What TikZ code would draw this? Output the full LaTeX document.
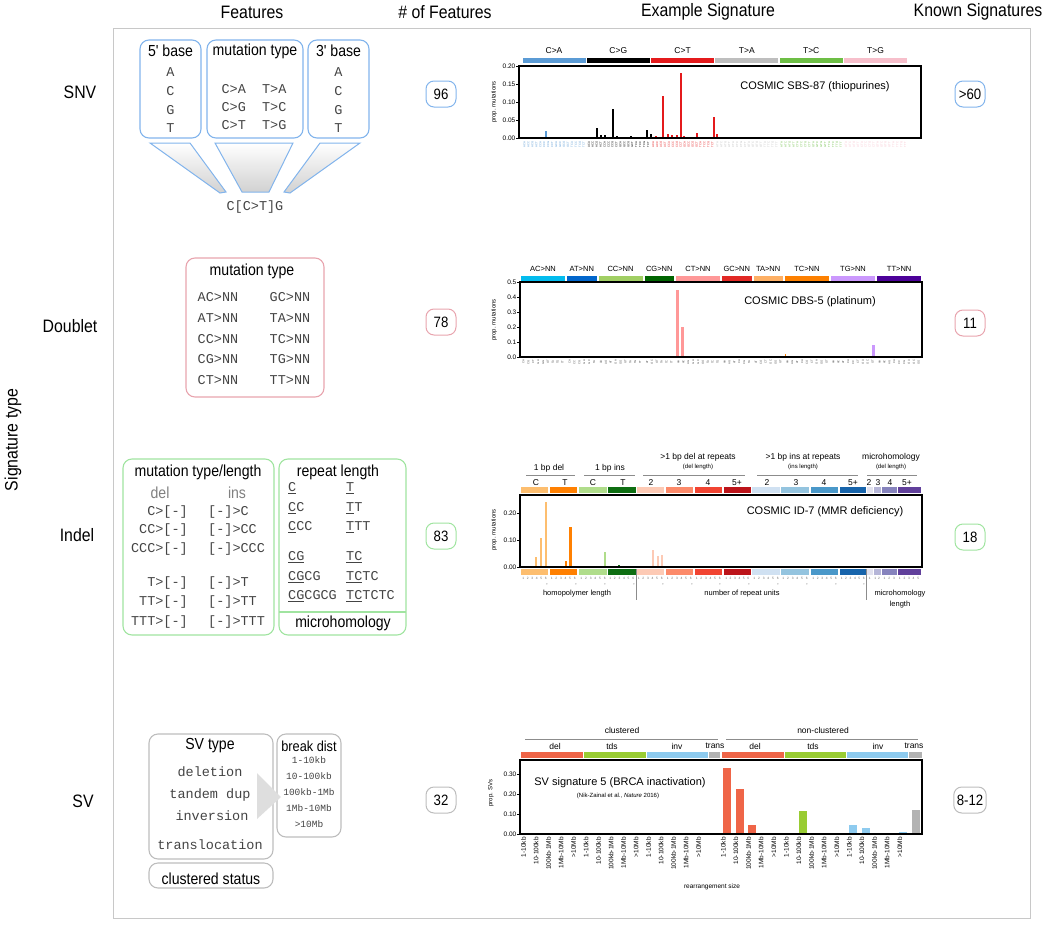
\documentclass[tikz,border=0pt]{standalone}
\usepackage{fontspec}
\setmainfont{Liberation Sans}
\setmonofont{Liberation Mono}
\newfontfamily\nar[FakeStretch=0.88]{Liberation Sans}
\usetikzlibrary{shapes.geometric}
\definecolor{snvc}{HTML}{82B4EC}
\definecolor{dblc}{HTML}{E8A4AE}
\definecolor{indc}{HTML}{A0E4A0}
\definecolor{svc}{HTML}{BDBDBD}
\definecolor{frm}{HTML}{C8C8C8}
\definecolor{monoc}{HTML}{444444}
\definecolor{sA}{HTML}{5B9BD5}
\definecolor{sB}{HTML}{000000}
\definecolor{sC}{HTML}{E41A1C}
\definecolor{sD}{HTML}{BEBEBE}
\definecolor{sE}{HTML}{6DBE45}
\definecolor{sF}{HTML}{F7BFCB}
\definecolor{dA}{HTML}{03BCEE}
\definecolor{dB}{HTML}{0266CC}
\definecolor{dC}{HTML}{A1CF64}
\definecolor{dD}{HTML}{006501}
\definecolor{dE}{HTML}{FF9898}
\definecolor{dF}{HTML}{E22925}
\definecolor{dG}{HTML}{FEB065}
\definecolor{dH}{HTML}{FD8000}
\definecolor{dI}{HTML}{CB98FD}
\definecolor{dJ}{HTML}{4C0199}
\definecolor{iA}{HTML}{FDBE6F}
\definecolor{iB}{HTML}{FF8001}
\definecolor{iC}{HTML}{B0DD8B}
\definecolor{iD}{HTML}{0E6E12}
\definecolor{iE}{HTML}{FDCAB5}
\definecolor{iF}{HTML}{FC8A6A}
\definecolor{iG}{HTML}{F14432}
\definecolor{iH}{HTML}{BC141A}
\definecolor{iI}{HTML}{D0E1F2}
\definecolor{iJ}{HTML}{94C4DF}
\definecolor{iK}{HTML}{4A98C9}
\definecolor{iL}{HTML}{1764AB}
\definecolor{iM}{HTML}{E2E2EF}
\definecolor{iN}{HTML}{B6B6D8}
\definecolor{iO}{HTML}{8683BD}
\definecolor{iP}{HTML}{61409B}
\definecolor{vA}{HTML}{EF6548}
\definecolor{vB}{HTML}{99CC33}
\definecolor{vC}{HTML}{8ECBEF}
\definecolor{vD}{HTML}{B3B3B3}
\begin{document}
\begin{tikzpicture}[x=1pt,y=-1pt,
  hdr/.style={font=\nar\fontsize{18}{20}\selectfont},
  fbox/.style={draw=#1, line width=1.1pt, rounded corners=9pt, inner sep=0pt},
  cnt/.style={draw=#1, line width=1pt, rounded corners=8pt, minimum width=30pt, minimum height=26pt, inner xsep=3pt, inner ysep=1pt, font=\nar\fontsize{15}{16}\selectfont},
  ttl/.style={font=\nar\fontsize{16}{18}\selectfont, inner sep=0pt},
  mono/.style={font=\ttfamily\fontsize{13.5}{16}\selectfont, text=monoc, inner sep=0pt},
  lab/.style={font=\fontsize{8.5}{9}\selectfont, inner sep=0pt},
  sm/.style={font=\fontsize{6}{7}\selectfont, inner sep=0pt},
  ax/.style={font=\fontsize{6.5}{7}\selectfont, inner sep=0pt, anchor=east},
  tl/.style={font=\fontsize{2.8}{3}\selectfont, inner sep=0pt},
  ctitle/.style={font=\fontsize{11}{12}\selectfont, inner sep=0pt},
  gline/.style={draw=black!45, line width=0.9pt},
  plotfr/.style={draw=black, line width=1.3pt},
  tick/.style={line width=0.8pt},
]
\useasboundingbox (0,0) rectangle (1050,926);
\draw[frm, line width=1pt] (113,28) rectangle (1030,918);

% headers
\node[hdr] (h1) at (252,12) {Features};
\node[hdr] (h2) at (445,12) {\# of Features};
\node[hdr] (h3) at (708,12) {Example Signature};
\node[hdr] (h4) at (978,12) {Known Signatures};
\node[hdr, rotate=90] (st) at (13,440) {Signature type};

% row labels
\node[hdr] (r1) at (80,92) {SNV};
\node[hdr] (r2) at (70,326) {Doublet};
\node[hdr] (r3) at (77,535) {Indel};
\node[hdr] (r4) at (83,801) {SV};

% counts
\node[cnt=snvc] (n1) at (441,94) {96};
\node[cnt=dblc] (n2) at (441,322) {78};
\node[cnt=indc] (n3) at (441,536) {83};
\node[cnt=svc] (n4) at (441,800) {32};
\node[cnt=snvc] (k1) at (970,94) {>60};
\node[cnt=dblc] (k2) at (970,323) {11};
\node[cnt=indc] (k3) at (970,537) {18};
\node[cnt=svc] (k4) at (970,800) {8-12};

% ================= SNV features
\shadedraw[top color=white, bottom color=black!18, draw=snvc, line width=1pt] (150,143) -- (190,143) -- (226,192) -- (220,193) -- cycle;
\shadedraw[top color=white, bottom color=black!18, draw=snvc, line width=1pt] (215,143) -- (293,143) -- (269,192) -- (242,192) -- cycle;
\shadedraw[top color=white, bottom color=black!18, draw=snvc, line width=1pt] (320,143) -- (360,143) -- (290,193) -- (284,192) -- cycle;
\node[fbox=snvc, minimum width=61pt, minimum height=98pt] (b5) at (170.5,89) {};
\node[fbox=snvc, minimum width=96pt, minimum height=98pt] (bm) at (255,89) {};
\node[fbox=snvc, minimum width=61pt, minimum height=98pt] (b3) at (338.5,89) {};
\node[ttl] at (170.5,51) {5' base};
\node[ttl] at (255,51) {mutation type};
\node[ttl] at (338.5,51) {3' base};
\foreach \b/\yy in {A/72,C/91,G/110,T/128}{
  \node[mono] at (170.5,\yy) {\b};
  \node[mono] at (338.5,\yy) {\b};
}
\node[mono] at (254,89) {C>A\ \ T>A};
\node[mono] at (254,107) {C>G\ \ T>C};
\node[mono] at (254,125) {C>T\ \ T>G};
\node[mono] (ctx) at (255,207) {C[C>T]G};

% ================= SNV chart
\foreach \k/\c/\tx in {0/sA/C>A,1/sB/C>G,2/sC/C>T,3/sD/T>A,4/sE/T>C,5/sF/T>G}{
  \fill[\c] ({522.5+64.3*\k},58) rectangle ({522.5+64.3*\k+63},62.5);
  \node[lab] at ({522.5+64.3*\k+31.5},51) {\tx};
  \foreach \fa [count=\ia from 0] in {A,C,G,T}{
    \foreach \ta [count=\ib from 0] in {A,C,G,T}{
      \node[tl, text=\c, rotate=90] at ({524.5+64.3*\k+3.95*(\ia*4+\ib)},144.5) {\fa\ifnum\k<3 C\else T\fi\ta};
    }
  }
}
\foreach \x/\v/\c in {530/0.004/sA,542/0.004/sA,546/0.02/sA,558/0.003/sA,566/0.003/sA,
  589/0.004/sB,597/0.028/sB,601/0.007/sB,605/0.007/sB,613/0.08/sB,617/0.006/sB,631/0.006/sB,647/0.022/sB,651/0.01/sB,
  656/0.005/sC,663/0.117/sC,668/0.012/sC,672/0.008/sC,677/0.008/sC,681/0.18/sC,684/0.006/sC,697/0.014/sC,714/0.058/sC,717/0.01/sC,
  733/0.003/sD,749/0.004/sD,765/0.003/sD,777/0.003/sD,
  791/0.004/sE,803/0.003/sE,813/0.004/sE,834/0.003/sE,843/0.004/sE,849/0.003/sE,870/0.002/sF}{
  \fill[\c] ({\x-0.8},138) rectangle ({\x+0.8},{138-\v*360});
}
\draw[plotfr] (519,66) rectangle (921,138);
\foreach \v/\l in {0/0.00,0.05/0.05,0.1/0.10,0.15/0.15,0.2/0.20}{
  \draw[tick] (516,{138-\v*360}) -- (519,{138-\v*360});
  \node[ax] at (515.5,{138-\v*360}) {\l};
}
\node[sm, rotate=90] at (494,102) {prop. mutations};
\node[ctitle] at (815,87) {COSMIC SBS-87 (thiopurines)};

% ================= Doublet features
\node[fbox=dblc, minimum width=138pt, minimum height=139pt] (bd) at (255,327.5) {};
\node[ttl] at (252,271) {mutation type};
\foreach \l/\r/\yy in {AC/GC/297,AT/TA/318,CC/TC/339,CG/TG/359,CT/TT/380}{
  \node[mono] at (218,\yy) {\l>NN};
  \node[mono] at (290,\yy) {\r>NN};
}

% ================= Doublet chart
\foreach \a/\b/\c/\tx in {521/565.1/dA/AC>NN,567.1/596.5/dB/AT>NN,598.5/642.6/dC/CC>NN,644.6/674/dD/CG>NN,676/720.1/dE/CT>NN,722.1/751.5/dF/GC>NN,753.5/782.9/dG/TA>NN,784.9/829/dH/TC>NN,831/875.1/dI/TG>NN,877.1/921.2/dJ/TT>NN}{
  \fill[\c] (\a,275.5) rectangle (\b,281.5);
  \node[lab, font=\fontsize{7.5}{8}\selectfont] at ({(\a+\b)/2},268.5) {\tx};
}
\foreach \sx/\lab in {521/{CA,CG,CT,GA,GG,GT,TA,TG,TT},567.1/{CA,CC,CG,GA,GC,TA},598.5/{AA,AG,AT,GA,GG,GT,TA,TG,TT},644.6/{AT,GC,GT,TA,TC,TT},676/{AA,AC,AG,GA,GC,GG,TA,TC,TG},722.1/{AA,AG,AT,CA,CG,TA},753.5/{AT,CG,CT,GC,GG,GT},784.9/{AA,AG,AT,CA,CG,CT,GA,GG,GT},831/{AA,AC,AT,CA,CC,CT,GA,GC,GT},877.1/{AA,AC,AG,CA,CC,CG,GA,GC,GG}}{
  \foreach \l [count=\i] in \lab {
    \node[tl, text=black!70, rotate=90] at ({\sx+4.9*(\i-0.5)},362) {\l};
  }
}
\foreach \xa/\xb/\v/\c in {675.5/678.5/0.45/dE,680.5/683.5/0.20/dE,686/688/0.01/dE,604.5/606/0.006/dC,784.5/786/0.02/dH,830.5/832/0.005/dI,841.5/843/0.006/dI,872/874.5/0.08/dI}{
  \fill[\c] (\xa,357) rectangle (\xb,{357-\v*150});
}
\draw[plotfr] (520,282) rectangle (922,357);
\foreach \v/\l in {0/0.0,0.1/0.1,0.2/0.2,0.3/0.3,0.4/0.4,0.5/0.5}{
  \draw[tick] (517,{357-\v*150}) -- (520,{357-\v*150});
  \node[ax] at (516.5,{357-\v*150}) {\l};
}
\node[sm, rotate=90] at (494,320) {prop. mutations};
\node[ctitle] at (810,302) {COSMIC DBS-5 (platinum)};

% ================= Indel features
\node[fbox=indc, minimum width=151pt, minimum height=176pt] (bil) at (198.5,547) {};
\node[fbox=indc, minimum width=127pt, minimum height=176pt] (bir) at (342.5,547) {};
\draw[indc, line width=1.1pt] (279,612) -- (406,612);
\node[ttl] at (198,472) {mutation type/length};
\node[ttl, text=black!50] at (160,493) {del};
\node[ttl, text=black!50] at (237,493) {ins};
\foreach \l/\r/\yy in {C/C/512,CC/CC/530,CCC/CCC/549,T/T/583,TT/TT/602,TTT/TTT/622}{
  \node[mono, anchor=east] at (188,\yy) {\l>[-]};
  \node[mono, anchor=west] at (208,\yy) {[-]>\r};
}
\node[ttl] at (338,472) {repeat length};
\node[ttl] at (343,623) {microhomology};
\foreach \l/\r/\yy in {{\underline{C}}/{\underline{T}}/488,{\underline{C}C}/{\underline{T}T}/508,{\underline{C}CC}/{\underline{T}TT}/527,{\underline{CG}}/{\underline{TC}}/557,{\underline{CG}CG}/{\underline{TC}TC}/577,{\underline{CG}CGCG}/{\underline{TC}TCTC}/596}{
  \node[mono, anchor=west] at (288,\yy) {\l};
  \node[mono, anchor=west] at (346,\yy) {\r};
}

% ================= Indel chart
\node[lab] at (549,468) {1 bp del};
\node[lab] at (610,468) {1 bp ins};
\node[lab] at (698,457) {>1 bp del at repeats};
\node[sm] at (698,467) {(del length)};
\node[lab] at (803,457) {>1 bp ins at repeats};
\node[sm] at (803,467) {(ins length)};
\node[lab] at (891,457) {microhomology};
\node[sm] at (891,467) {(del length)};
\foreach \a/\b in {526/575,584/635,643/745,757/858,867/917}{
  \draw[gline] (\a,475) -- (\b,475);
}
\foreach \x/\tx in {536/C,565/T,593/C,623/T,651/2,679/3,708/4,737/5+,767/2,796/3,824/4,853/5+,869/2,878/3,890/4,907/5+}{
  \node[lab] at (\x,482.5) {\tx};
}
\foreach \a/\b/\n/\c in {521/548/6/iA,549.5/577/6/iB,579/607/6/iC,608/635.5/6/iD,636.5/664/6/iE,665.5/693/6/iF,694.5/722/6/iG,724/750.5/6/iH,752/780/6/iI,781/809/6/iJ,811/838/6/iK,839.5/866/6/iL,867/872.5/1/iM,873.5/881/2/iN,882/896.5/3/iO,897.5/920.5/5/iP}{
  \fill[\c] (\a,487) rectangle (\b,493);
  \fill[\c] (\a,568.5) rectangle (\b,575);
  \foreach \i in {1,...,\n}{
    \node[tl, font=\fontsize{3.2}{3.5}\selectfont, text=black!60] at ({\a+(\i-0.5)*(\b-\a)/\n},578.5) {\i};
  }
}
\foreach \x in {547,576,605,634,663,692,720,749,778,807,836,864}{
  \node[tl, font=\fontsize{3.2}{3.5}\selectfont, text=black!60] at (\x,585) {+};
}
\foreach \x/\w/\v/\c in {536/1.6/0.037/iA,541/1.6/0.107/iA,546/1.6/0.24/iA,566/2.2/0.023/iB,570.5/2.6/0.147/iB,599/1.4/0.004/iC,605/1.6/0.055/iC,619/1.6/0.006/iD,653/1.6/0.062/iE,658/1.6/0.042/iE,662/1.8/0.046/iE}{
  \fill[\c] ({\x-\w/2},567) rectangle ({\x+\w/2},{567-\v*270});
}
\draw[plotfr] (520,495) rectangle (922,567);
\foreach \v/\l in {0/0.00,0.1/0.10,0.2/0.20}{
  \draw[tick] (517,{567-\v*270}) -- (520,{567-\v*270});
  \node[ax] at (516.5,{567-\v*270}) {\l};
}
\node[sm, rotate=90] at (494,530) {prop. mutations};
\node[ctitle] at (825,512) {COSMIC ID-7 (MMR deficiency)};
\draw[gline] (636,569) -- (636,600);
\draw[gline] (866,569) -- (866,600);
\node[lab, font=\fontsize{7.5}{8}\selectfont] at (577,594) {homopolymer length};
\node[lab, font=\fontsize{7.5}{8}\selectfont] at (742,594) {number of repeat units};
\node[lab, font=\fontsize{7.5}{8}\selectfont] at (900,594) {microhomology};
\node[lab, font=\fontsize{7.5}{8}\selectfont] at (900,604.5) {length};

% ================= SV features
\node[fbox=svc, minimum width=124pt, minimum height=125pt] (bsv) at (211,796.5) {};
\node[fbox=svc, minimum width=124pt, minimum height=25pt] (bcl) at (211,875.5) {};
\node[fbox=svc, minimum width=64pt, minimum height=103pt] (bbd) at (309,785.5) {};
\fill[black!13] (257,773) -- (281,797) -- (257,819) -- cycle;
\node[ttl] at (210,746) {SV type};
\node[mono] at (210,772) {deletion};
\node[mono] at (210,795) {tandem dup};
\node[mono] at (212,816) {inversion};
\node[mono] at (210,845) {translocation};
\node[ttl] at (211,879) {clustered status};
\node[ttl, font=\nar\fontsize{14.5}{16}\selectfont] at (309,746) {break dist};
\foreach \tx/\yy in {1-10kb/760,10-100kb/776,100kb-1Mb/792,1Mb-10Mb/808,>10Mb/824}{
  \node[mono, font=\ttfamily\fontsize{9.5}{10}\selectfont] at (309,\yy) {\tx};
}

% ================= SV chart
\node[lab] at (622,730) {clustered};
\node[lab] at (823,730) {non-clustered};
\draw[gline] (525,739) -- (718,739);
\draw[gline] (726,739) -- (918,739);
\foreach \x/\tx in {555/del,612/tds,677/inv,715/trans,755/del,813/tds,878/inv,914/trans}{
  \node[lab] at (\x,746) {\tx};
}
\foreach \a/\b/\c in {521/583/vA,583.5/646/vB,646.5/708/vC,708.5/720/vD,721.5/784/vA,784.5/846/vB,846.5/908/vC,908.5/922/vD}{
  \fill[\c] (\a,752) rectangle (\b,757.5);
}
\foreach \k/\v/\c in {0/0.33/vA,1/0.225/vA,2/0.045/vA,6/0.115/vB,10/0.045/vC,11/0.03/vC,14/0.008/vC,15/0.12/vD}{
  \fill[\c] ({727+12.6*\k-4},834) rectangle ({727+12.6*\k+4},{834-\v*200});
}
\draw[plotfr] (520,760) rectangle (922,834);
\foreach \v/\l in {0/0.00,0.1/0.10,0.2/0.20,0.3/0.30}{
  \draw[tick] (517,{834-\v*200}) -- (520,{834-\v*200});
  \node[ax] at (516.5,{834-\v*200}) {\l};
}
\node[sm, rotate=90] at (491,793) {prop. SVs};
\node[ctitle] at (620,783) {SV signature 5 (BRCA inactivation)};
\node[sm] at (618,796) {(Nik-Zainal et al., {\itshape Nature} 2016)};
\foreach \g in {0,1,2}{
  \foreach \tx [count=\i from 0] in {1-10kb,10-100kb,100kb-1Mb,1Mb-10Mb,>10Mb}{
    \node[sm, font=\fontsize{6.5}{7}\selectfont, rotate=90, anchor=east] at ({523.5+12.5*(5*\g+\i)},837) {\tx};
    \node[sm, font=\fontsize{6.5}{7}\selectfont, rotate=90, anchor=east] at ({723.3+12.6*(5*\g+\i)},837) {\tx};
  }
}
\node[sm, font=\fontsize{6.5}{7}\selectfont] at (712,887) {rearrangement size};
\end{tikzpicture}
\end{document}
